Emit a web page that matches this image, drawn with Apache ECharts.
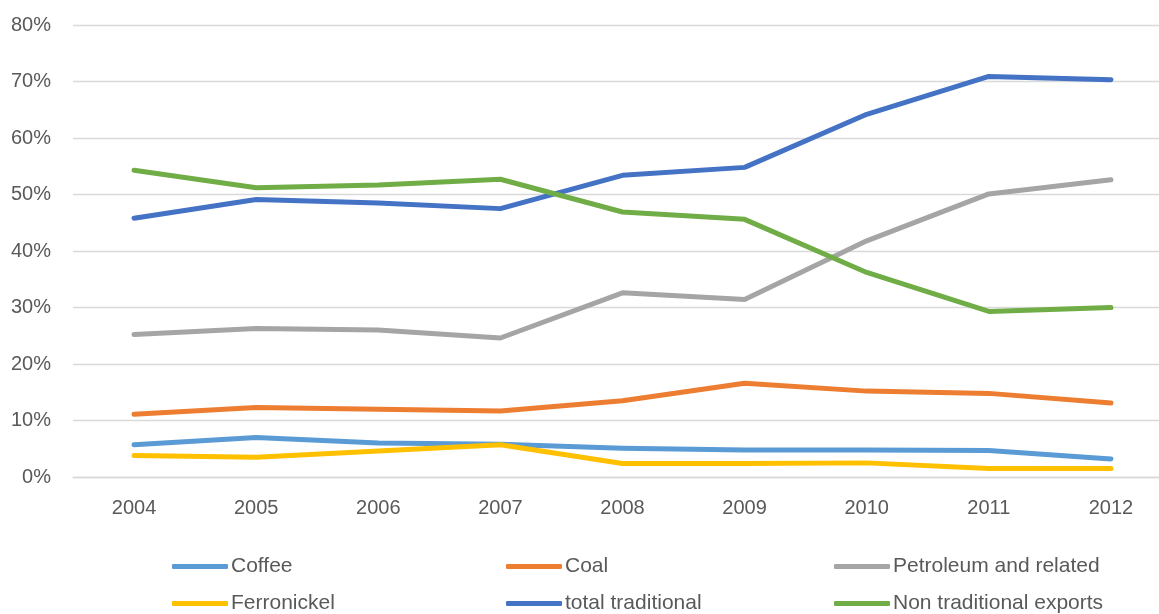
<!DOCTYPE html>
<html>
<head>
<meta charset="utf-8">
<script src="https://cdn.jsdelivr.net/npm/echarts@6/dist/echarts.min.js"></script>
<style>
  html, body { margin: 0; padding: 0; background: #ffffff; }
  #chart { width: 1159px; height: 614px; }
</style>
</head>
<body>
<div id="chart"></div>
<script>
// Export shares by year (percent of total exports)
const years = ['2004', '2005', '2006', '2007', '2008', '2009', '2010', '2011', '2012'];
const coffee = [5.7, 7.0, 6.0, 5.8, 5.1, 4.8, 4.8, 4.7, 3.2];
const coal = [11.1, 12.3, 12.0, 11.7, 13.5, 16.6, 15.2, 14.8, 13.1];
const petroleum = [25.2, 26.3, 26.0, 24.6, 32.6, 31.4, 41.8, 50.1, 52.6];
const ferronickel = [3.8, 3.5, 4.6, 5.7, 2.4, 2.4, 2.5, 1.5, 1.5];
const totalTraditional = [45.8, 49.1, 48.5, 47.5, 53.4, 54.8, 64.2, 70.9, 70.3];
const nonTraditional = [54.3, 51.2, 51.7, 52.7, 46.9, 45.6, 36.2, 29.3, 30.0];
const yTicks = [0, 10, 20, 30, 40, 50, 60, 70, 80];

const FONT = '"Liberation Sans", Arial, sans-serif';
const TEXT_COLOR = '#595959';

const seriesDefs = [
  { name: 'Coffee', data: coffee, color: '#5B9BD5' },
  { name: 'Coal', data: coal, color: '#ED7D31' },
  { name: 'Petroleum and related', data: petroleum, color: '#A5A5A5' },
  { name: 'Ferronickel', data: ferronickel, color: '#FFC000' },
  { name: 'total traditional', data: totalTraditional, color: '#4472C4' },
  { name: 'Non traditional exports', data: nonTraditional, color: '#70AD47' }
];

// Legend laid out as two rows of three columns
const legendCols = [172, 506, 834];
const legendRows = [556, 593];

const legends = seriesDefs.map((s, i) => ({
  data: [s.name],
  left: legendCols[i % 3],
  top: legendRows[Math.floor(i / 3)],
  padding: 0,
  icon: 'roundRect',
  itemWidth: 56,
  itemHeight: 5,
  selectedMode: false,
  textStyle: { fontFamily: FONT, fontSize: 21, color: TEXT_COLOR, lineHeight: 21, padding: [0, 0, 0, -2] }
}));

const chart = echarts.init(document.getElementById('chart'), null, { renderer: 'canvas' });
chart.setOption({
  animation: false,
  backgroundColor: '#ffffff',
  legend: legends,
  grid: { left: 73, top: 25, right: -13, height: 452, containLabel: false, outerBoundsMode: 'none' },
  xAxis: {
    type: 'category',
    data: years,
    boundaryGap: true,
    axisLine: { show: true, lineStyle: { color: '#D9D9D9', width: 1.3 } },
    axisTick: { show: false },
    axisLabel: { fontFamily: FONT, fontSize: 20, color: TEXT_COLOR, margin: 21 }
  },
  yAxis: {
    type: 'value',
    min: yTicks[0],
    max: yTicks[yTicks.length - 1],
    interval: 10,
    axisLine: { show: false },
    axisTick: { show: false },
    splitLine: { lineStyle: { color: '#D9D9D9', width: 1.3 } },
    axisLabel: { fontFamily: FONT, fontSize: 20, color: TEXT_COLOR, margin: 22, formatter: v => v + '%' }
  },
  series: seriesDefs.map(s => ({
    name: s.name,
    type: 'line',
    data: s.data,
    symbol: 'none',
    smooth: false,
    color: s.color,
    lineStyle: { color: s.color, width: 5, cap: 'round', join: 'round' }
  }))
});
</script>
</body>
</html>
